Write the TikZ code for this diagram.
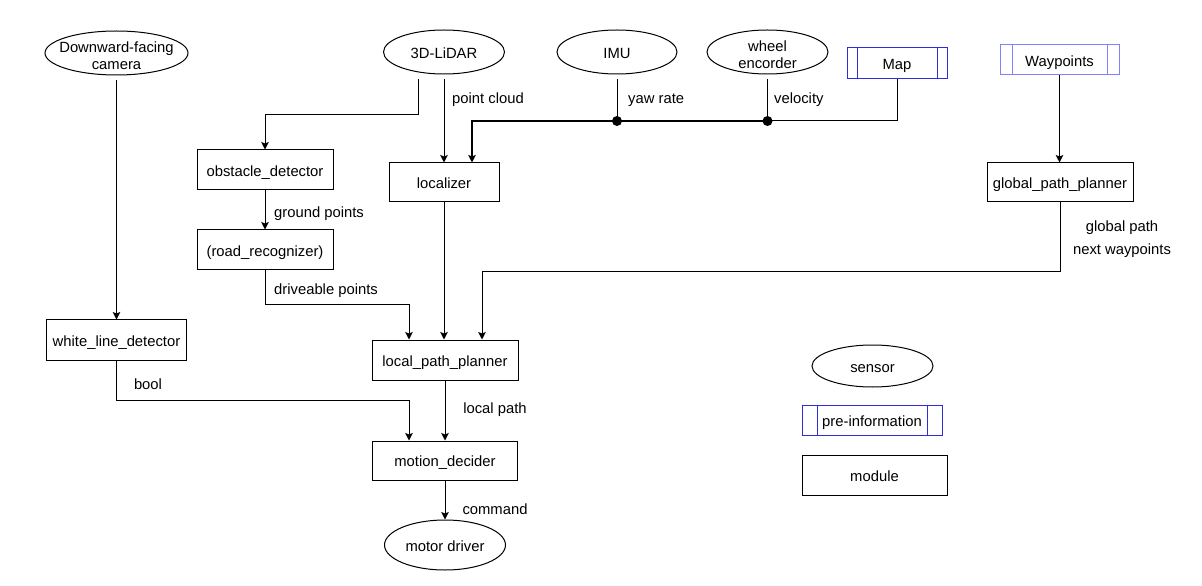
\documentclass[tikz,border=0pt]{standalone}
\usepackage{fontspec}
\setmainfont{Liberation Sans}
\usetikzlibrary{arrows.meta,shapes.geometric}
\definecolor{preblue}{RGB}{45,45,220}
\definecolor{wpblue}{RGB}{130,130,255}
\begin{document}
\begin{tikzpicture}[x=1bp,y=-1bp,
  font=\fontsize{14.8bp}{17bp}\selectfont,
  every node/.style={inner sep=0pt},
  oneline/.style={text height=13bp, text depth=0.5bp},
  module/.style={draw, line width=1bp, rectangle, oneline},
  sensor/.style={draw, line width=1bp, ellipse},
  stext/.style={align=center, inner sep=0pt},
  stext1/.style={inner sep=0pt, oneline},
  prebox/.style 2 args={draw=#1, line width=1bp, rectangle, oneline,
    path picture={\draw[#1, line width=1bp]
      ([xshift=#2]path picture bounding box.north west) -- ([xshift=#2]path picture bounding box.south west)
      ([xshift=-#2]path picture bounding box.north east) -- ([xshift=-#2]path picture bounding box.south east);}},
  conn/.style={draw, line width=1bp},
  arr/.style={conn, -{Stealth[length=7.5bp,width=7.5bp,inset=1.5bp]}},
  thick/.style={line width=1.6bp},
  dot/.style={circle, fill=black, minimum size=10bp},
  lbl/.style={inner sep=0pt, oneline}
]
\useasboundingbox (0,0) rectangle (1202,586);

% sensors
\node[sensor, minimum width=143bp, minimum height=44bp,
  label={[stext, yshift=-2.5bp]center:Downward-facing\\camera}] (cam) at (116.5,53) {};
\node[sensor, minimum width=121bp, minimum height=44bp,
  label={[stext1]center:3D-LiDAR}] (lidar) at (444,52) {};
\node[sensor, minimum width=120bp, minimum height=44bp,
  label={[stext1]center:IMU}] (imu) at (617,52) {};
\node[sensor, minimum width=121bp, minimum height=44bp,
  label={[stext, yshift=-3bp]center:wheel\\encorder}] (wheel) at (767.5,52) {};
\node[sensor, minimum width=121bp, minimum height=50bp,
  label={[stext1]center:motor driver}] (motor) at (445,545) {};

% pre-information
\node[prebox={preblue}{10bp}, minimum width=100bp, minimum height=31bp] (map) at (897,63.5) {Map};
\node[prebox={wpblue}{12bp}, minimum width=119bp, minimum height=30bp] (wp) at (1059.5,60) {Waypoints};

% modules
\node[module, minimum width=136bp, minimum height=40bp] (obs) at (265,170) {obstacle\_detector};
\node[module, minimum width=110bp, minimum height=39bp] (loc) at (444,182.5) {localizer};
\node[module, minimum width=146bp, minimum height=39bp] (gpp) at (1060,182.5) {global\_path\_planner};
\node[module, minimum width=136bp, minimum height=40bp] (road) at (265,250) {(road\_recognizer)};
\node[module, minimum width=139bp, minimum height=40bp] (wld) at (116.5,340) {white\_line\_detector};
\node[module, minimum width=146bp, minimum height=40bp] (lpp) at (445,360) {local\_path\_planner};
\node[module, minimum width=145bp, minimum height=39bp] (md) at (445,460.5) {motion\_decider};

% junction dots
\node[dot] (j1) at (617,121) {};
\node[dot] (j2) at (767.5,121) {};

% legend
\node[sensor, minimum width=121bp, minimum height=42bp,
  label={[stext1]center:sensor}] (lsensor) at (872.5,366) {};
\node[prebox={preblue}{15bp}, minimum width=140bp, minimum height=30bp] (lpre) at (872,420) {pre-information};
\node[module, minimum width=145bp, minimum height=40bp] (lmod) at (874.5,475) {module};

% connectors
\draw[arr] ([yshift=-5bp]cam.south) -- (cam.south |- wld.north);
\draw[arr] ([xshift=-26bp,yshift=-5bp]lidar.south) -- ++(0,35) -| (obs.north);
\draw[arr] ([yshift=-5bp]lidar.south) -- (lidar.south |- loc.north);
\draw[conn] ([yshift=-5bp]imu.south) -- (j1.center);
\draw[conn] ([yshift=-5bp]wheel.south) -- (j2.center);
\draw[conn] (map.south) |- (j2.center);
\draw[arr, thick] (j2.center) -- (j1.center) -| ([xshift=28bp]loc.north);
\draw[arr] (wp.south) -- (wp.south |- gpp.north);
\draw[arr] (obs.south) -- (road.north);
\draw[arr] (road.south) -- ++(0,34) -| ([xshift=-36bp]lpp.north);
\draw[arr] (loc.south) -- (loc.south |- lpp.north);
\draw[arr] (gpp.south) -- ++(0,69) -| ([xshift=37bp]lpp.north);
\draw[arr] (wld.south) -- ++(0,40) -| ([xshift=-36bp]md.north);
\draw[arr] (lpp.south) -- (md.north);
\draw[arr] (md.south) -- (motor.north);

% connector labels
\node[lbl, anchor=west] (tpc) at (452,97) {point cloud};
\node[lbl, anchor=west] (tyaw) at (628,97) {yaw rate};
\node[lbl, anchor=west] (tvel) at (774,97) {velocity};
\node[lbl, anchor=west] (tgnd) at (274,211) {ground points};
\node[lbl, anchor=west] (tdrv) at (274,288) {driveable points};
\node[lbl] (tgp) at (1122,225) {global path};
\node[lbl] (tnw) at (1122,248) {next waypoints};
\node[lbl] (tbool) at (148,383) {bool};
\node[lbl] (tlp) at (495,407) {local path};
\node[lbl] (tcmd) at (495,508) {command};
\end{tikzpicture}
\end{document}
